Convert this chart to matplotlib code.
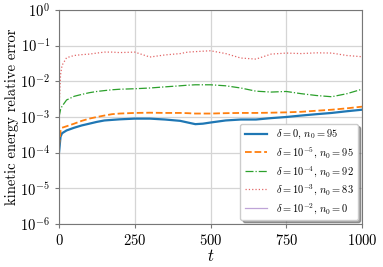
import numpy as np
import matplotlib.pyplot as plt

plt.rcParams['font.family'] = 'serif'
plt.rcParams['font.serif'] = ['cmr10']
plt.rcParams['mathtext.fontset'] = 'cm'
plt.rcParams['axes.formatter.use_mathtext'] = True

t = [0, 5, 10, 25, 50, 75, 100, 125, 150, 175, 200, 250, 300, 350, 400, 425,
     450, 475, 500, 550, 600, 650, 700, 750, 800, 850, 900, 950, 1000]

err_d0 = [1.0e-4, 2.8e-4, 3.5e-4, 4.2e-4, 5.0e-4, 5.8e-4, 6.5e-4, 7.3e-4,
          8.0e-4, 8.3e-4, 8.6e-4, 9.0e-4, 9.0e-4, 8.5e-4, 7.8e-4, 7.0e-4,
          6.3e-4, 6.5e-4, 7.0e-4, 8.0e-4, 8.5e-4, 8.5e-4, 9.3e-4, 1.0e-3,
          1.1e-3, 1.2e-3, 1.3e-3, 1.45e-3, 1.6e-3]
err_d5 = [1.5e-4, 4.0e-4, 5.0e-4, 5.5e-4, 6.5e-4, 7.8e-4, 9.0e-4, 1.0e-3,
          1.1e-3, 1.2e-3, 1.25e-3, 1.3e-3, 1.32e-3, 1.3e-3, 1.3e-3, 1.28e-3,
          1.25e-3, 1.25e-3, 1.25e-3, 1.28e-3, 1.3e-3, 1.3e-3, 1.32e-3, 1.35e-3,
          1.4e-3, 1.5e-3, 1.6e-3, 1.75e-3, 1.95e-3]
err_d4 = [1.0e-3, 1.6e-3, 2.0e-3, 3.0e-3, 3.8e-3, 4.3e-3, 4.8e-3, 5.2e-3,
          5.5e-3, 5.8e-3, 6.0e-3, 6.2e-3, 6.5e-3, 7.0e-3, 7.5e-3, 7.8e-3,
          8.0e-3, 8.0e-3, 8.0e-3, 7.5e-3, 6.5e-3, 5.3e-3, 5.0e-3, 5.2e-3,
          4.5e-3, 4.0e-3, 3.7e-3, 4.5e-3, 6.0e-3]
err_d3 = [1.5e-3, 1.5e-2, 2.8e-2, 4.6e-2, 5.3e-2, 5.6e-2, 5.8e-2, 6.2e-2,
          6.6e-2, 6.6e-2, 6.4e-2, 6.6e-2, 4.8e-2, 5.5e-2, 6.0e-2, 6.6e-2,
          6.8e-2, 7.0e-2, 7.2e-2, 6.0e-2, 4.5e-2, 4.2e-2, 5.8e-2, 6.2e-2,
          6.0e-2, 6.3e-2, 6.2e-2, 5.3e-2, 4.9e-2]
err_d2 = []

labels = [r'$\delta = 0$, $n_0 = 95$',
          r'$\delta = 10^{-5}$, $n_0 = 95$',
          r'$\delta = 10^{-4}$, $n_0 = 92$',
          r'$\delta = 10^{-3}$, $n_0 = 83$',
          r'$\delta = 10^{-2}$, $n_0 = 0$']


def main():
    fig = plt.figure(figsize=(3.83, 2.67), dpi=100)
    ax = fig.add_axes([59 / 383, 43 / 267, 303 / 383, 214 / 267])

    ax.plot(t, err_d0, color='C0', lw=1.6, label=labels[0])
    ax.plot(t, err_d5, color='C1', lw=1.3, ls='--', label=labels[1])
    ax.plot(t, err_d4, color='C2', lw=0.9, ls='-.', label=labels[2])
    ax.plot(t, err_d3, color='C3', lw=0.9, ls=':', alpha=0.7, label=labels[3])
    ax.plot(err_d2, err_d2, color='C4', lw=0.9, alpha=0.6, label=labels[4])

    ax.set_yscale('log')
    ax.set_ylim(1e-6, 1)
    ax.set_xlim(0, 1000)
    ax.set_xticks([0, 250, 500, 750, 1000])
    ax.minorticks_off()
    ax.grid(True, color='#d5d5d5', lw=0.9)
    for s in ax.spines.values():
        s.set_color('#777777')
    ax.tick_params(labelsize=10.5, color='#777777', length=3)

    ax.set_xlabel(r'$t$', fontsize=12, labelpad=0)
    ax.set_ylabel('kinetic energy relative error', fontsize=10.5, labelpad=1)

    ax.legend(loc='lower right', fontsize=7.5, shadow=True, fancybox=True,
              framealpha=1, handlelength=2.2, labelspacing=0.35,
              borderaxespad=0.4)

    fig.savefig('out.png', dpi=100)


if __name__ == '__main__':
    main()
